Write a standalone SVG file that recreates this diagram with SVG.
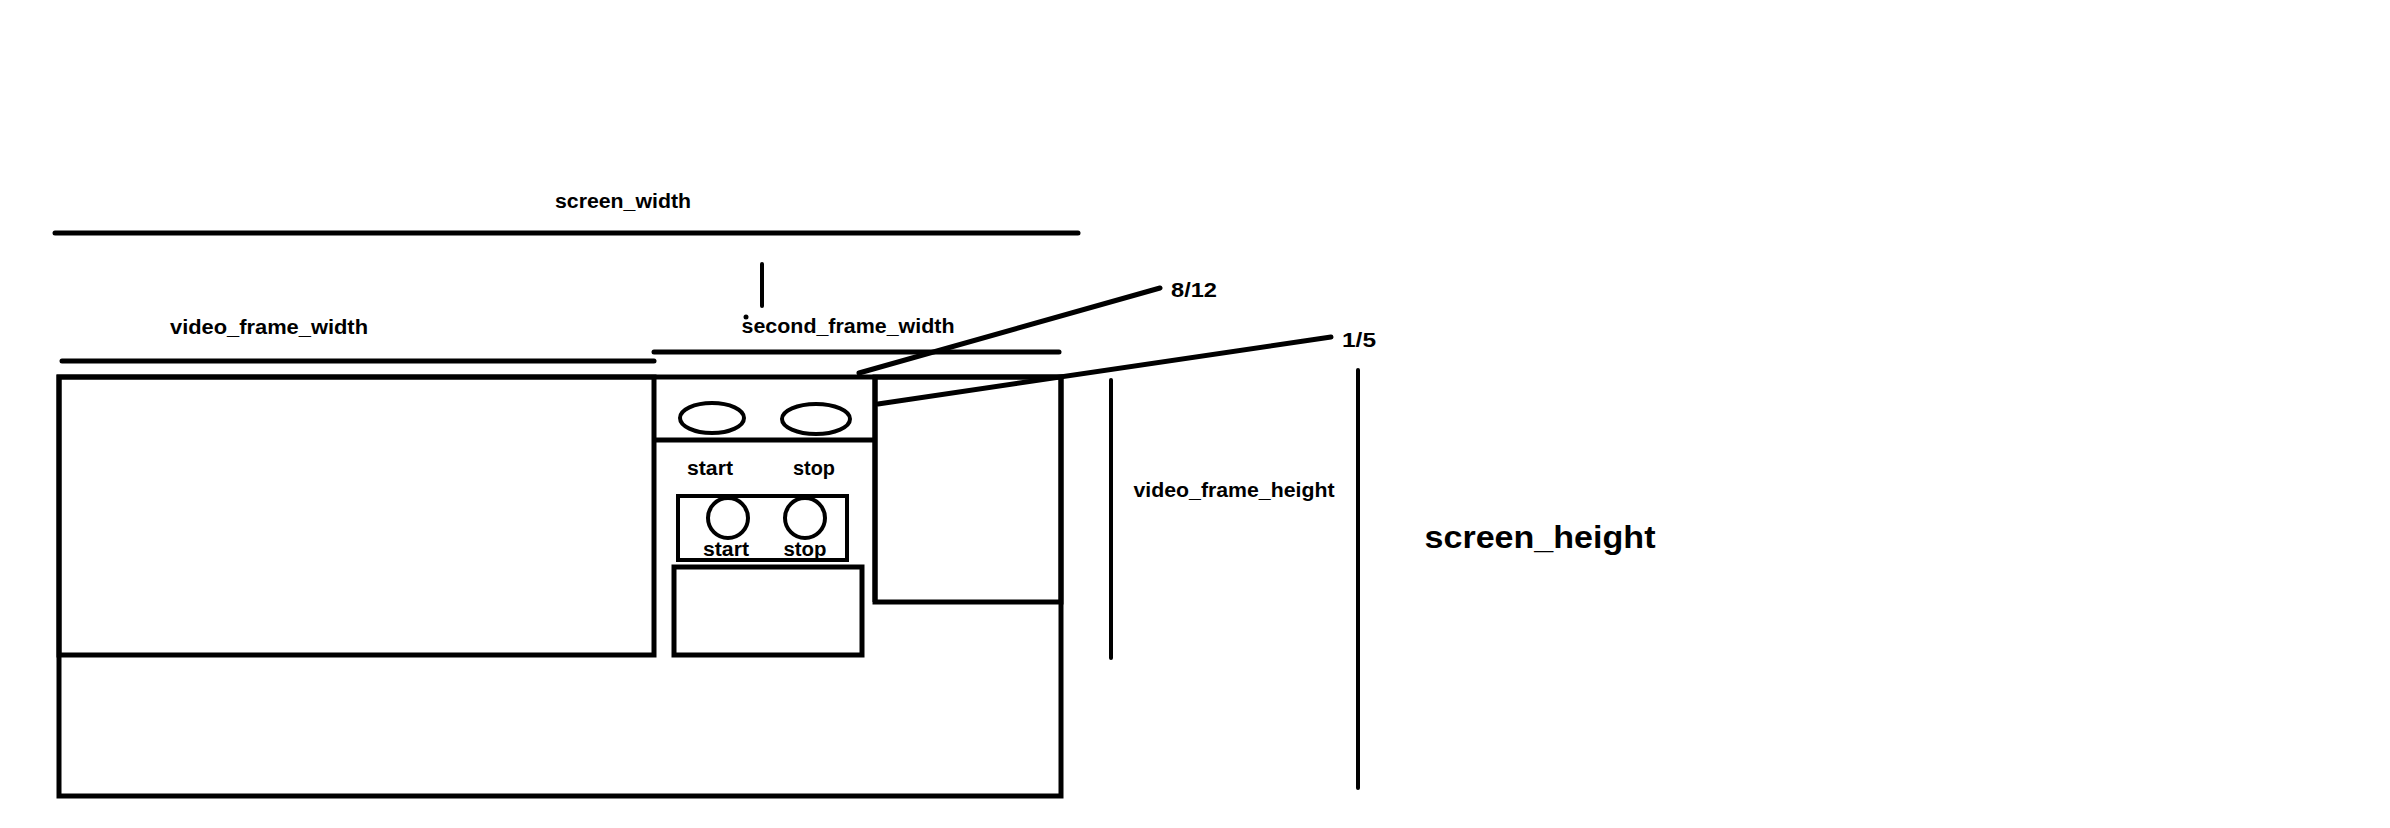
<svg xmlns="http://www.w3.org/2000/svg" width="2390" height="828" viewBox="0 0 2390 828">
<style>
.s{fill:none;stroke:#000;stroke-width:5}
.t{fill:none;stroke:#000;stroke-width:4}
.ln{stroke:#000;stroke-width:5;stroke-linecap:round}
.lt{stroke:#000;stroke-width:4;stroke-linecap:round}
text{font-family:"Liberation Sans",Arial,sans-serif;font-weight:bold;fill:#000;text-anchor:middle}
.f20{font-size:20px}
.f32{font-size:32px}
</style>
<rect width="2390" height="828" fill="#fff"/>
<g id="screen">
  <rect class="s" x="59" y="377" width="1002" height="419"/>
</g>
<g id="video_frame">
  <rect class="s" x="59" y="377" width="595" height="278"/>
</g>
<g id="second_frame">
  <line class="s" x1="654" y1="440" x2="875" y2="440"/>
  <line class="s" x1="875" y1="377" x2="875" y2="602"/>
  <ellipse class="t" cx="712" cy="418" rx="32" ry="15"/>
  <ellipse class="t" cx="816" cy="419" rx="34" ry="15"/>
  <text class="f20" x="710" y="475" textLength="46" lengthAdjust="spacingAndGlyphs">start</text>
  <text class="f20" x="814" y="475" textLength="42" lengthAdjust="spacingAndGlyphs">stop</text>
</g>
<g id="button_box">
  <rect class="t" x="678" y="496" width="169" height="64"/>
  <circle class="t" cx="728" cy="518" r="20"/>
  <circle class="t" cx="805" cy="518" r="20"/>
  <text class="f20" x="726" y="556" textLength="46" lengthAdjust="spacingAndGlyphs">start</text>
  <text class="f20" x="805" y="556" textLength="43" lengthAdjust="spacingAndGlyphs">stop</text>
</g>
<g id="lower_box">
  <rect class="s" x="674" y="567" width="188" height="88"/>
</g>
<g id="right_panel">
  <rect class="s" x="875" y="377" width="186" height="225"/>
</g>
<g id="connectors">
  <line class="ln" x1="55" y1="233" x2="1078" y2="233"/>
  <line class="lt" x1="762" y1="264" x2="762" y2="306"/>
  <circle cx="746" cy="317" r="2.5" fill="#000"/>
  <line class="ln" x1="62" y1="361" x2="654" y2="361"/>
  <line class="ln" x1="654" y1="352" x2="1059" y2="352"/>
  <line class="ln" x1="859" y1="373" x2="1160" y2="288"/>
  <line class="ln" x1="878" y1="404" x2="1331" y2="337"/>
  <line class="lt" x1="1111" y1="380" x2="1111" y2="658"/>
  <line class="lt" x1="1358" y1="370" x2="1358" y2="788"/>
</g>
<g id="labels">
  <text class="f20" x="623" y="208" textLength="136" lengthAdjust="spacingAndGlyphs">screen_width</text>
  <text class="f20" x="269" y="334" textLength="198" lengthAdjust="spacingAndGlyphs">video_frame_width</text>
  <text class="f20" x="848" y="333" textLength="213" lengthAdjust="spacingAndGlyphs">second_frame_width</text>
  <text class="f20" x="1194" y="297" textLength="46" lengthAdjust="spacingAndGlyphs">8/12</text>
  <text class="f20" x="1359" y="347" textLength="34" lengthAdjust="spacingAndGlyphs">1/5</text>
  <text class="f20" x="1234" y="497" textLength="201" lengthAdjust="spacingAndGlyphs">video_frame_height</text>
  <text class="f32" x="1540" y="548" textLength="231" lengthAdjust="spacingAndGlyphs">screen_height</text>
</g>
</svg>
